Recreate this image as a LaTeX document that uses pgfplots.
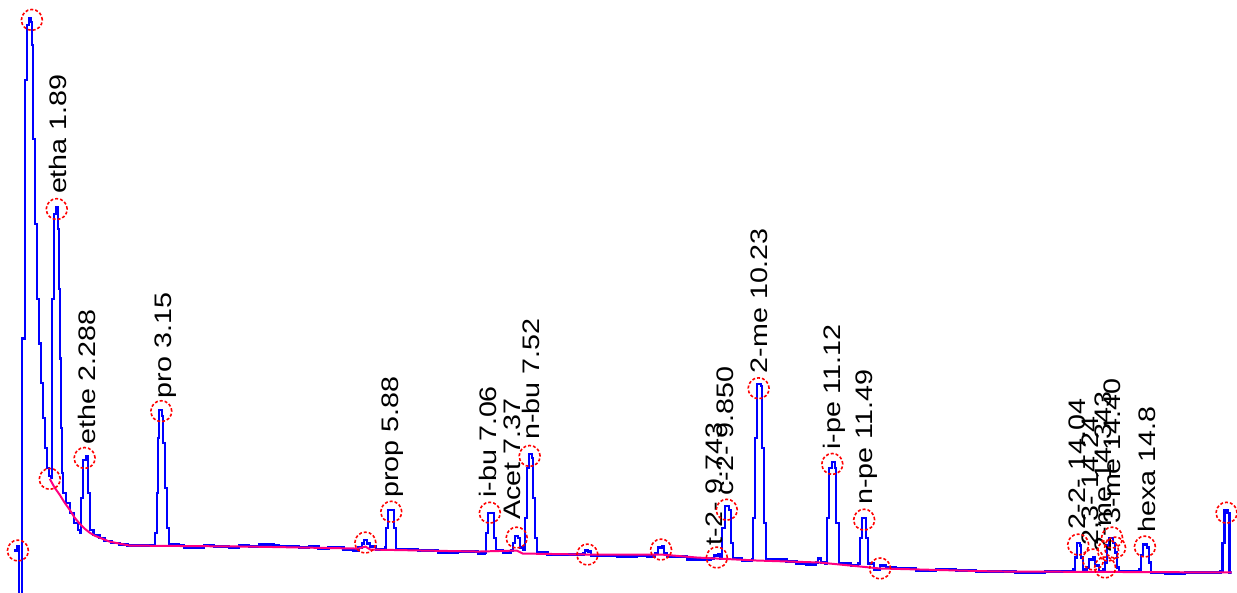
\documentclass[border=0pt]{standalone}
\usepackage{fontspec}
\setmainfont{Liberation Sans}
\usepackage{pgfplots}
\pgfplotsset{compat=1.18}
\definecolor{trace}{RGB}{0,0,255}
\definecolor{base}{RGB}{255,0,128}
\definecolor{peak}{RGB}{255,0,0}
\newcommand{\lab}[1]{\scalebox{1.2}[1]{\fontsize{24}{24}\selectfont #1}}
\begin{document}
\begin{tikzpicture}
\begin{axis}[
  width=1237pt, height=595pt, scale only axis,
  xmin=0, xmax=1237, ymin=0, ymax=595, y dir=reverse,
  hide axis, clip=true,
]
\path (rel axis cs:0,0) rectangle (rel axis cs:1,1);
% signal trace
\addplot[const plot, color=trace, line width=2.2pt] coordinates {
(14,553)(17,549)(19,600)(22,340)(25,80)(27,25)(29,18)(31,22)(32,45)(33,140)(35,225)(37,300)(39,345)(41,385)(43,420)(45,450)(47,470)(49,478)(51,480)(52,300)(54,215)(56,208)(58,230)(59,290)(60,360)(61,430)(62,475)(63,495)(66,505)(70,515)(74,525)(78,532)(80,535)(81,500)(83,462)(86,458)(88,495)(90,532)(94,537)(100,540)(105,543)(112,545)(120,547)(128,548)(140,548)(154,548)(156,535)(158,495)(159,440)(160,412)(163,418)(164,445)(166,490)(168,530)(170,547)(180,548)(185,550)(200,550)(205,548)(215,549)(230,550)(240,548)(250,549)(260,547)(275,548)(280,549)(300,550)(310,549)(320,551)(330,550)(345,552)(355,553)(360,550)(364,546)(366,542)(369,546)(372,549)(378,552)(387,550)(388,530)(390,512)(394,512)(396,530)(398,552)(410,552)(420,553)(440,555)(460,554)(480,556)(487,555)(488,535)(490,515)(494,515)(496,540)(498,553)(505,555)(513,553)(515,545)(517,538)(520,540)(522,550)(525,552)(527,520)(529,470)(531,456)(534,460)(535,500)(537,540)(539,555)(550,557)(570,557)(580,557)(586,556)(588,553)(591,554)(594,558)(600,558)(620,559)(640,558)(650,559)(658,556)(661,550)(665,549)(667,556)(670,559)(690,562)(710,562)(714,561)(717,558)(721,557)(723,561)(725,530)(728,508)(732,512)(734,545)(736,561)(745,563)(755,562)(756,520)(758,440)(760,386)(764,388)(765,450)(767,525)(769,562)(790,564)(800,566)(810,567)(820,565)(822,561)(825,565)(829,566)(831,520)(833,470)(836,464)(839,470)(840,525)(843,566)(855,568)(862,566)(864,540)(866,520)(869,520)(870,540)(872,566)(878,572)(884,568)(890,570)(900,571)(920,573)(940,572)(960,573)(980,574)(1000,574)(1020,575)(1050,574)(1070,574)(1078,572)(1080,560)(1082,545)(1085,548)(1086,560)(1088,572)(1092,570)(1094,562)(1098,560)(1100,568)(1104,574)(1108,572)(1110,565)(1112,548)(1114,540)(1118,545)(1120,555)(1122,570)(1124,574)(1140,574)(1144,572)(1146,558)(1148,547)(1152,550)(1154,565)(1156,575)(1170,576)(1190,575)(1210,575)(1226,574)(1228,545)(1230,512)(1233,515)(1235,575)(1237,575)
};
% baseline
\addplot[color=base, line width=2pt] coordinates {
(50,481)(55,490)(60,497)(65,505)(70,512)(75,520)(80,526)(85,531)(90,535)(95,538)(100,540)(110,544)(120,546)(130,548)(250,549)(360,551)(367,549)(372,552)(480,554)(519,553)(525,556)(590,557)(664,557)(700,560)(720,561)(760,563)(823,565)(884,571)(1000,574)(1237,575)
};
% peak markers
\addplot[only marks, mark=o, mark size=10.5pt, color=peak, mark options={densely dashed, line width=1.6pt}] coordinates {
(18,553)(32,20)(50,481)(57,210)(85,460)(162,413)(367,545)(393,514)(492,515)(519,540)(532,458)(590,557)(664,552)(720,560)(730,512)(762,390)(836,466)(868,522)(884,571)(1083,547)(1098,562)(1110,570)(1113,553)(1117,540)(1120,550)(1150,549)(1232,515)
};
% labels
\begin{scope}[every node/.style={rotate=90, anchor=west, inner sep=0pt, text=black}]
\node at (axis cs:58,195) {\lab{etha 1.89}};
\node at (axis cs:87,447) {\lab{ethe 2.288}};
\node at (axis cs:166,400) {\lab{pro 3.15}};
\node at (axis cs:394,500) {\lab{prop 5.88}};
\node at (axis cs:490,500) {\lab{i-bu 7.06}};
\node at (axis cs:515,522) {\lab{Acet 7.37}};
\node at (axis cs:533,442) {\lab{n-bu 7.52}};
\node at (axis cs:717,548) {\lab{t-2- 9.743}};
\node at (axis cs:728,498) {\lab{c-2- 9.850}};
\node at (axis cs:763,375) {\lab{2-me 10.23}};
\node at (axis cs:838,452) {\lab{i-pe 11.12}};
\node at (axis cs:870,507) {\lab{n-pe 11.49}};
\node at (axis cs:1082,532) {\lab{2-2- 14.04}};
\node at (axis cs:1097,548) {\lab{2,3- 14.24}};
\node at (axis cs:1108,555) {\lab{2-me 14.343}};
\node at (axis cs:1117,526) {\lab{3-me 14.40}};
\node at (axis cs:1152,535) {\lab{hexa 14.8}};
\end{scope}
\end{axis}
\end{tikzpicture}
\end{document}
